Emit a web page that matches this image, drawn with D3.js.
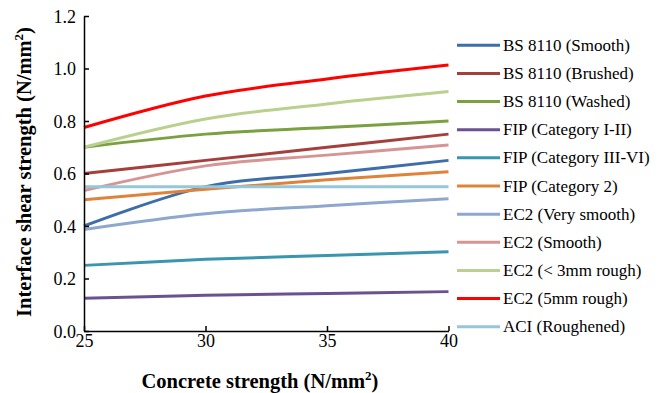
<!DOCTYPE html>
<html>
<head>
<meta charset="utf-8">
<script src="https://cdn.jsdelivr.net/npm/d3@7"></script>
<style>
  body { margin: 0; background: #fff; }
  svg { font-family: "Liberation Serif", "Times New Roman", serif; }
</style>
</head>
<body>
<div id="chart"></div>
<script>
const WIDTH = 664
const HEIGHT = 393

// concrete strength (N/mm2)
const strengths = [25, 30, 35, 40]

const seriesNames = [
  'BS 8110 (Smooth)', 'BS 8110 (Brushed)', 'BS 8110 (Washed)',
  'FIP (Category I-II)', 'FIP (Category III-VI)', 'FIP (Category 2)',
  'EC2 (Very smooth)', 'EC2 (Smooth)', 'EC2 (< 3mm rough)', 'EC2 (5mm rough)',
  'ACI (Roughened)'
]

const bsSmooth = [0.40, 0.55, 0.60, 0.65]
const bsBrushed = [0.60, 0.65, 0.70, 0.75]
const bsWashed = [0.70, 0.75, 0.775, 0.80]
const fipCat12 = [0.125, 0.136, 0.143, 0.15]
const fipCat36 = [0.25, 0.273, 0.288, 0.302]
const fipCat2 = [0.50, 0.54, 0.576, 0.607]
const ec2VerySmooth = [0.387, 0.447, 0.477, 0.504]
const ec2Smooth = [0.535, 0.629, 0.670, 0.709]
const ec2Rough3 = [0.70, 0.808, 0.865, 0.912]
const ec2Rough5 = [0.775, 0.895, 0.96, 1.013]
const aciRoughened = [0.55, 0.55, 0.55, 0.55]

const seriesValues = [bsSmooth, bsBrushed, bsWashed, fipCat12, fipCat36, fipCat2,
  ec2VerySmooth, ec2Smooth, ec2Rough3, ec2Rough5, aciRoughened]

const xTicks = [25, 30, 35, 40]
const yTicks = [0, 0.2, 0.4, 0.6, 0.8, 1.0, 1.2]

const COLORS = ['#3f6daa', '#a53f3c', '#7aa040', '#6a5291', '#3a95af', '#e0833a',
  '#8ea7ce', '#d69594', '#b9d08f', '#ff0000', '#95c6d9']

const svg = d3.select('#chart').append('svg')
  .attr('width', WIDTH)
  .attr('height', HEIGHT)

const x = d3.scaleLinear().domain([25, 40]).range([84, 448.5])
const y = d3.scaleLinear().domain([0, 1.2]).range([331, 16])

const line = d3.line()
  .x(d => x(d[0]))
  .y(d => y(d[1]))
  .curve(d3.curveCatmullRom.alpha(0))

// series, drawn in legend order (later ones on top)
svg.append('g')
  .selectAll('path')
  .data(seriesValues)
  .join('path')
  .attr('d', vals => line(strengths.map((s, i) => [s, vals[i]])))
  .attr('fill', 'none')
  .attr('stroke', (d, i) => COLORS[i])
  .attr('stroke-width', 3)

// axes
const yAxis = svg.append('g')
  .attr('transform', `translate(${x.range()[0]},0)`)
  .call(d3.axisLeft(y).tickValues(yTicks).tickFormat(d3.format('.1f'))
    .tickSizeInner(-5).tickSizeOuter(0).tickPadding(8))

const xAxis = svg.append('g')
  .attr('transform', `translate(0,${y.range()[0]})`)
  .call(d3.axisBottom(x).tickValues(xTicks).tickFormat(d3.format('d'))
    .tickSizeInner(-5).tickSizeOuter(0).tickPadding(3))

for (const ax of [xAxis, yAxis]) {
  ax.select('.domain').attr('stroke', '#000').attr('stroke-width', 1.5)
  ax.selectAll('.tick line').attr('stroke', '#000').attr('stroke-width', 1.5)
  ax.selectAll('.tick text')
    .attr('fill', '#000')
    .style('font-family', '"Liberation Serif", "Times New Roman", serif')
    .style('font-size', '18px')
}
yAxis.selectAll('.tick text').attr('dy', '0.35em')

// axis titles
const xTitle = svg.append('text')
  .attr('x', 260)
  .attr('y', 388)
  .attr('text-anchor', 'middle')
  .style('font-size', '20.5px')
  .style('font-weight', 'bold')
xTitle.append('tspan').text('Concrete strength (N/mm')
xTitle.append('tspan').attr('dy', -8).style('font-size', '13px').text('2')
xTitle.append('tspan').attr('dy', 8).text(')')

const yTitle = svg.append('text')
  .attr('transform', 'translate(31,172) rotate(-90)')
  .attr('text-anchor', 'middle')
  .style('font-size', '20.5px')
  .style('font-weight', 'bold')
yTitle.append('tspan').text('Interface shear strength (N/mm')
yTitle.append('tspan').attr('dy', -8).style('font-size', '13px').text('2')
yTitle.append('tspan').attr('dy', 8).text(')')

// legend
const legend = svg.append('g')
  .selectAll('g')
  .data(seriesNames)
  .join('g')
  .attr('transform', (d, i) => `translate(457,${45.3 + i * 28.14})`)

legend.append('line')
  .attr('x1', 0).attr('x2', 43)
  .attr('stroke', (d, i) => COLORS[i])
  .attr('stroke-width', 3)

legend.append('text')
  .attr('x', 46)
  .attr('y', 5.5)
  .style('font-size', '17px')
  .text(d => d)
</script>
</body>
</html>
